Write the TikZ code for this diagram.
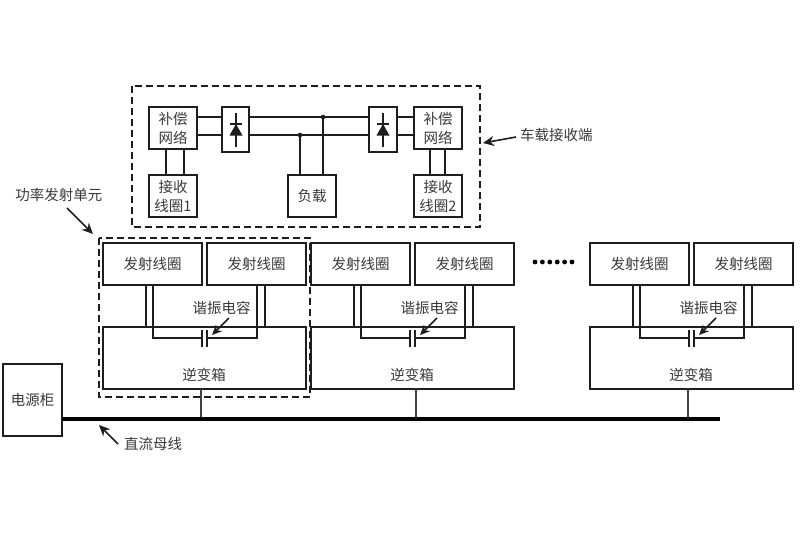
\documentclass[tikz,border=0pt]{standalone}
\usepackage{fontspec}
\setmainfont{Noto Sans CJK SC}
\usetikzlibrary{arrows.meta}
\definecolor{ink}{HTML}{1E1E1E}
\definecolor{txt}{HTML}{3A3A3A}
\tikzset{
  box/.style={draw=ink,line width=1.6pt,inner sep=0pt,outer sep=0pt,align=center,text=txt,
    font=\fontsize{14.5}{19}\selectfont},
  lbl/.style={inner sep=0pt,text=txt,font=\fontsize{14.5}{19}\selectfont},
  wire/.style={draw=ink,line width=1.4pt},
  thin wire/.style={draw=ink!85,line width=1.2pt},
  dashbox/.style={draw=ink,line width=1.7pt,dash pattern=on 7pt off 4pt},
  pointer/.style={draw=ink,line width=1.6pt,-{Stealth[length=11pt,width=10pt]}},
  bus/.style={draw=black,line width=4.6pt},
  junction/.style={circle,fill=ink,inner sep=0pt,minimum size=4.6pt},
}
% \bx{name}{x1}{y1}{x2}{y2}{text}
\newcommand{\bx}[6]{%
  \pgfmathsetmacro{\bw}{#4-#2}\pgfmathsetmacro{\bh}{#5-#3}%
  \node[box,minimum width=\bw pt,minimum height=\bh pt] (#1) at ({(#2+#4)/2},{(#3+#5)/2}) {#6};}
\newcommand{\diodesym}[1]{%
  \draw[ink,line width=1.5pt] (#1,113) -- (#1,147);
  \draw[ink,line width=1.7pt] (#1-6,124) -- (#1+6,124);
  \fill[ink] (#1,124) -- (#1+6.5,135.5) -- (#1-6.5,135.5) -- cycle;}
\begin{document}
\begin{tikzpicture}[x=1pt,y=-1pt]
\useasboundingbox (0,0) rectangle (800,533);
\fill[white] (0,0) rectangle (800,533);

% receiver
\draw[dashbox] (132,86) rectangle (480,227);
\bx{compL}{149}{107}{197}{149}{补偿\\网络}
\bx{coilL}{149}{175}{197}{217}{接收\\线圈1}
\bx{rectL}{222}{107}{249}{152}{}
\bx{load}{288}{175}{336}{217}{负载}
\bx{rectR}{369}{107}{397}{152}{}
\bx{compR}{414}{107}{462}{149}{补偿\\网络}
\bx{coilR}{414}{175}{462}{217}{接收\\线圈2}
\diodesym{236}
\diodesym{383}

\draw[wire] (166,0 |- compL.south) -- (166,0 |- coilL.north);
\draw[wire] (184,0 |- compL.south) -- (184,0 |- coilL.north);
\draw[wire] (430,0 |- compR.south) -- (430,0 |- coilR.north);
\draw[wire] (445,0 |- compR.south) -- (445,0 |- coilR.north);
\draw[wire] (compL.east |- 0,117) -- (rectL.west |- 0,117);
\draw[wire] (compL.east |- 0,135) -- (rectL.west |- 0,135);
\draw[wire] (rectL.east |- 0,117) -- (rectR.west |- 0,117);
\draw[wire] (rectL.east |- 0,135) -- (rectR.west |- 0,135);
\draw[wire] (rectR.east |- 0,117) -- (compR.west |- 0,117);
\draw[wire] (rectR.east |- 0,135) -- (compR.west |- 0,135);
\node[junction] (j1) at (323,117) {};
\node[junction] (j2) at (300,135) {};
\draw[wire] (j1.center) -- (j1.center |- load.north);
\draw[wire] (j2.center) -- (j2.center |- load.north);

\node[lbl,anchor=west] (recvlabel) at (520,135) {车载接收端};
\coordinate (recvtip) at (483,143);
\draw[pointer] (recvlabel.west) ++(-4,2) -- (recvtip);

% transmit units
\draw[dashbox] (99,238) rectangle (310,397);
\node[lbl] (unitlabel) at (59,195) {功率发射单元};
\coordinate (unitfrom) at (67,208);
\coordinate (unittip) at (93,234);
\draw[pointer] (unitfrom) -- (unittip);

\foreach \i/\ox/\stem in {1/0/201,2/208/416,3/487/688}{
  \begin{scope}[xshift=\ox pt]
    \bx{ta\i}{103}{243}{202}{285}{发射线圈}
    \bx{tb\i}{207}{243}{306}{285}{发射线圈}
    \bx{inv\i}{103}{327}{306}{389}{}
    \node[lbl] (invtext\i) at (204,375) {逆变箱};
    \node[lbl] (restext\i) at (221.5,308) {谐振电容};
    \coordinate (capL\i) at (202,338);
    \coordinate (capR\i) at (207,338);
    \draw[wire] (146,285) -- (146,327);
    \draw[wire] (265,285) -- (265,327);
    \draw[wire] (153,285) -- (153,338) -- (capL\i);
    \draw[wire] (257,285) -- (257,338) -- (capR\i);
    \draw[wire] (202,330) -- (202,347);
    \draw[wire] (207,330) -- (207,347);
    \coordinate (resfrom\i) at (229,318);
    \coordinate (restip\i) at (212,335);
    \draw[draw=ink,line width=1.6pt,-{Stealth[length=10pt,width=9pt]}] (resfrom\i) -- (restip\i);
  \end{scope}
  \coordinate (stemtop\i) at (\stem,389);
  \coordinate (stembot\i) at (\stem,419);
  \draw[thin wire] (stemtop\i) -- (stembot\i);
}

% source and bus
\bx{power}{3}{364}{62}{436}{电源柜}
\coordinate (busend) at (720,419);
\draw[bus] (power.east |- busend) -- (busend);
\node[lbl] (buslabel) at (153,444) {直流母线};
\coordinate (busfrom) at (118,444);
\coordinate (bustip) at (99,425);
\draw[pointer] (busfrom) -- (bustip);

% ellipsis dots
\foreach \k in {0,...,5}{
  \fill[black] (535+7.4*\k,262) circle (2.4pt);
}
\end{tikzpicture}
\end{document}
